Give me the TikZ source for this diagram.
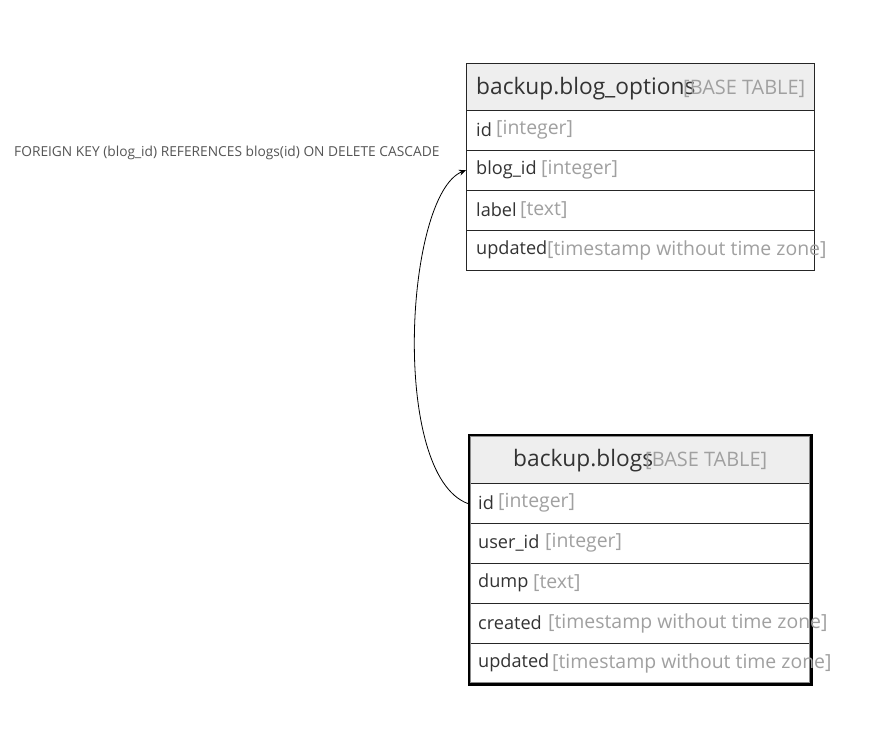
\documentclass[tikz,border=0pt]{standalone}
\usepackage{fontspec}
\setmainfont{Open Sans}
\usetikzlibrary{arrows.meta}
\definecolor{nametxt}{HTML}{333333}
\definecolor{typetxt}{HTML}{A0A0A0}
\definecolor{hdrfill}{HTML}{EEEEEE}
\definecolor{lbltxt}{HTML}{555555}
\tikzset{
  rowbox/.style={rectangle, draw=black!85, line width=1.2bp, minimum width=#1, minimum height=40bp, inner sep=0pt, anchor=north west, fill=white},
  hdrbox/.style={rectangle, draw=black!85, line width=1.2bp, fill=hdrfill, inner sep=0pt, anchor=north west},
  nm/.style={anchor=west, inner sep=0pt, text=nametxt, font=\fontsize{18.2}{22}\selectfont},
  ty/.style={anchor=west, inner sep=0pt, text=typetxt, font=\fontsize{19.5}{22}\selectfont},
  hnm/.style={anchor=west, inner sep=0pt, text=nametxt, font=\fontsize{22.8}{26}\selectfont},
  hty/.style={anchor=west, inner sep=0pt, text=typetxt, font=\fontsize{20}{22}\selectfont},
  fklabel/.style={anchor=west, inner sep=0pt, text=lbltxt, font=\fontsize{13.8}{16}\selectfont},
}
\begin{document}
\begin{tikzpicture}[x=1bp,y=-1bp]
\useasboundingbox[fill=white] (0,0) rectangle (877,749);
% ---- table backup.blog_options
\node[hdrbox, minimum width=348bp, minimum height=46.5bp] (bohdr) at (466,63) {};
\node[rowbox=348bp] (boid) at (466,109.5) {};
\node[rowbox=348bp] (boblogid) at (466,149.5) {};
\node[rowbox=348bp] (bolabel) at (466,189.5) {};
\node[rowbox=348bp] (boupd) at (466,229.5) {};
\node[hnm] (bohn) at (476,88.5) {backup.blog\_options};
\node[hty] (boht) at (683,88.5) {[BASE TABLE]};
\node[nm] (boidn) at (476,130) {id};
\node[ty] (boidt) at (496,130) {[integer]};
\node[nm] (boblogidn) at (476,170) {blog\_id};
\node[ty] (boblogidt) at (541,170) {[integer]};
\node[nm] (bolabeln) at (476,210) {label};
\node[ty] (bolabelt) at (520,210) {[text]};
\node[nm] (boupdn) at (476,250) {updated};
\node[ty] (boupdt) at (547,250) {[timestamp without time zone]};
% ---- table backup.blogs
\node[hdrbox, minimum width=342bp, minimum height=49bp] (blhdr) at (468,434) {};
\node[rowbox=342bp] (blid) at (468,483) {};
\node[rowbox=342bp] (bluser) at (468,523) {};
\node[rowbox=342bp] (bldump) at (468,563) {};
\node[rowbox=342bp] (blcre) at (468,603) {};
\node[rowbox=342bp] (blupd) at (468,643) {};
\node[rectangle, draw=black, line width=3bp, minimum width=342bp, minimum height=249bp, inner sep=0pt, anchor=north west] (blframe) at (468,434) {};
\node[rectangle, draw=black!45, line width=0.7bp, minimum width=339bp, minimum height=246bp, inner sep=0pt, anchor=north west] (blinner) at (469.5,435.5) {};
\node[hnm] (blhn) at (513,460.5) {backup.blogs};
\node[hty] (blht) at (645,460.5) {[BASE TABLE]};
\node[nm] (blidn) at (478,503) {id};
\node[ty] (blidt) at (498,503) {[integer]};
\node[nm] (blusern) at (478,543) {user\_id};
\node[ty] (blusert) at (545,543) {[integer]};
\node[nm] (bldumpn) at (478,583) {dump};
\node[ty] (bldumpt) at (533,583) {[text]};
\node[nm] (blcren) at (478,623) {created};
\node[ty] (blcret) at (548,623) {[timestamp without time zone]};
\node[nm] (blupdn) at (478,663) {updated};
\node[ty] (blupdt) at (552,663) {[timestamp without time zone]};
% ---- relationship
\node[fklabel] (fk) at (14,153) {FOREIGN KEY (blog\_id) REFERENCES blogs(id) ON DELETE CASCADE};
\draw[line width=0.8bp, -{Stealth[length=7bp,width=6bp]}] (blid.west) .. controls (390,475) and (405,195) .. (boblogid.west);
\end{tikzpicture}
\end{document}
